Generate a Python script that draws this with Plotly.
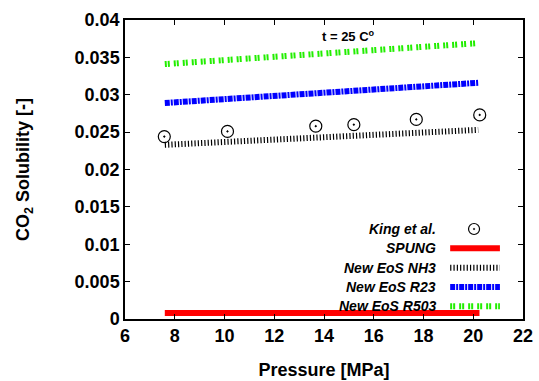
import plotly.graph_objects as go

# Data
line_x = [7.6, 20.2]
spung_x = [7.6, 20.25]
spung_y = [0.0008, 0.0008]
nh3_y = [0.0233, 0.0253]
r23_y = [0.0289, 0.0316]
r503_y = [0.0341, 0.0369]
king_x = [7.58, 10.12, 13.67, 15.2, 17.71, 20.26]
king_y = [0.0244, 0.0251, 0.0258, 0.0260, 0.0267, 0.0273]

legend_names = ["King et al.", "SPUNG", "New EoS NH3", "New EoS R23", "New EoS R503"]
x_ticks = [6, 8, 10, 12, 14, 16, 18, 20, 22]
y_ticks = [0, 0.005, 0.01, 0.015, 0.02, 0.025, 0.03, 0.035, 0.04]
y_tick_labels = ["0", "0.005", "0.01", "0.015", "0.02", "0.025", "0.03", "0.035", "0.04"]

FONT = "Liberation Sans, Arial, sans-serif"

nh3_style = dict(color="black", width=6, dash="1.2px,2.1px")
r23_style = dict(color="#0000ff", width=6, dash="5px,1px,2px,1px")
r503_style = dict(color="#22ee00", width=6, dash="2px,1px,2px,4px")
spung_style = dict(color="#ff0000", width=6)

fig = go.Figure()
fig.add_trace(go.Scatter(x=spung_x, y=spung_y, mode="lines", line=spung_style, showlegend=False))
fig.add_trace(go.Scatter(x=line_x, y=nh3_y, mode="lines", line=nh3_style, showlegend=False))
fig.add_trace(go.Scatter(x=line_x, y=r23_y, mode="lines", line=r23_style, showlegend=False))
fig.add_trace(go.Scatter(x=line_x, y=r503_y, mode="lines", line=r503_style, showlegend=False))
fig.add_trace(go.Scatter(x=king_x, y=king_y, mode="markers",
                         marker=dict(symbol="circle-open-dot", size=12, color="black",
                                     line=dict(width=1.2, color="black")),
                         showlegend=False))

# Manual legend (text right aligned, sample to the right)
rows = [0.301, 0.237, 0.171, 0.107, 0.043]
text_x = 0.786
x0, x1 = 0.817, 0.942
styles = [None, spung_style, nh3_style, r23_style, r503_style]
for name, ry, st in zip(legend_names, rows, styles):
    fig.add_annotation(x=text_x, y=ry, xref="paper", yref="paper", text="<b><i>%s</i></b>" % name,
                       showarrow=False, xanchor="right", yanchor="middle",
                       font=dict(family=FONT, size=14, color="black"))
    if st is not None:
        fig.add_shape(type="line", xref="paper", yref="paper", x0=x0, x1=x1, y0=ry, y1=ry,
                      line=st)

# King legend marker (open circle with a dot)
fig.add_shape(type="circle", xref="paper", yref="paper", xsizemode="pixel", ysizemode="pixel",
              xanchor=0.877, yanchor=0.301, x0=-5.5, x1=5.5, y0=-5.5, y1=5.5,
              line=dict(color="black", width=1.2))
fig.add_shape(type="circle", xref="paper", yref="paper", xsizemode="pixel", ysizemode="pixel",
              xanchor=0.877, yanchor=0.301, x0=-0.8, x1=0.8, y0=-0.8, y1=0.8,
              line=dict(color="black", width=0.5), fillcolor="black")

fig.add_annotation(x=15.0, y=0.0378, text="<b>t = 25 C<sup>o</sup></b>", showarrow=False,
                   font=dict(family=FONT, size=13, color="black"))

axis_common = dict(showline=True, linecolor="black", linewidth=1.5, mirror="ticks",
                   ticks="inside", ticklen=5, tickwidth=1, tickcolor="black",
                   showgrid=False, zeroline=False, automargin=False,
                   tickfont=dict(family=FONT, size=18, color="black"))

fig.update_layout(
    width=539, height=381,
    margin=dict(l=125, r=16, t=20, b=62),
    paper_bgcolor="white", plot_bgcolor="white",
    showlegend=False,
    xaxis=dict(range=[6, 22], tickvals=x_ticks,
               ticktext=["<b>%d</b>" % v for v in x_ticks],
               title=dict(text="<b>Pressure [MPa]</b>", font=dict(family=FONT, size=18, color="black"),
                          standoff=18),
               **axis_common),
    yaxis=dict(range=[0, 0.04], tickvals=y_ticks,
               ticktext=["<b>%s</b>" % s for s in y_tick_labels],
               title=dict(text="<b>CO<sub>2</sub> Solubility [-]</b>", font=dict(family=FONT, size=18, color="black"),
                          standoff=40),
               **axis_common),
)

fig.write_html("out.html", config={"displayModeBar": False},
               post_script="document.body.style.margin='0';")
